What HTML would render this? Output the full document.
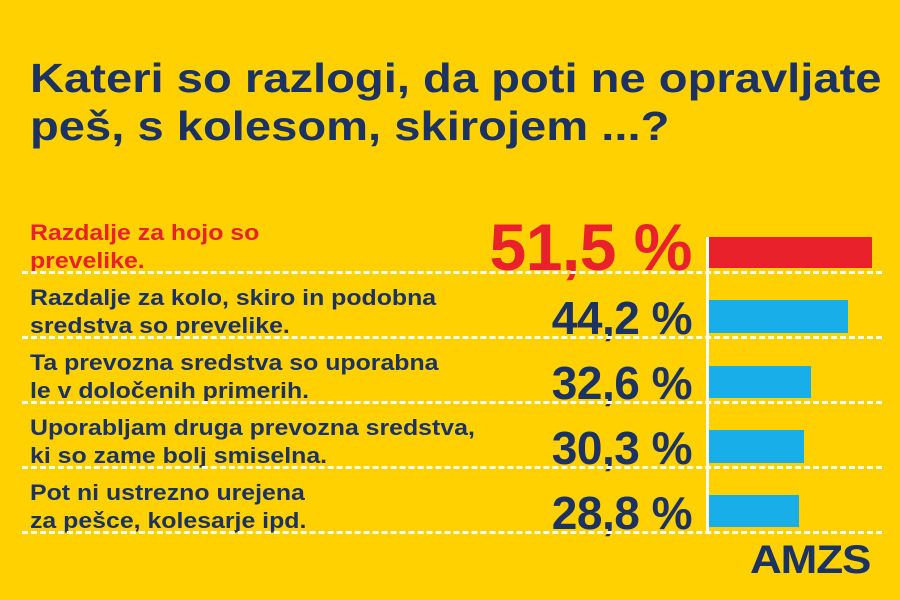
<!DOCTYPE html>
<html><head><meta charset="utf-8"><style>
body{margin:0;width:900px;height:600px;background:#FFD100;position:relative;overflow:hidden;font-family:"Liberation Sans",sans-serif;font-weight:bold}
.t{position:absolute;left:30px;top:54px;font-size:41px;line-height:48px;color:#1b3263;transform:scaleX(1.15);transform-origin:left top;white-space:nowrap}
.l{position:absolute;left:30px;font-size:22px;line-height:28px;color:#1b3263;transform:scaleX(1.13);transform-origin:left top;white-space:nowrap}
.p{position:absolute;right:208px;font-size:46px;color:#1b3263;line-height:46px;letter-spacing:-0.5px}
.d{position:absolute;left:22px;width:860px;height:0;border-top:3px dashed #fff;opacity:.95}
.b{position:absolute;left:709px;background:#18aeea}
</style></head><body>
<div class="t">Kateri so razlogi, da poti ne opravljate<br>peš, s kolesom, skirojem ...?</div>
<div class="l" style="top:219px;color:#e8212b">Razdalje za hojo so<br>prevelike.</div>
<div class="l" style="top:284px">Razdalje za kolo, skiro in podobna<br>sredstva so prevelike.</div>
<div class="l" style="top:349px">Ta prevozna sredstva so uporabna<br>le v določenih primerih.</div>
<div class="l" style="top:414px">Uporabljam druga prevozna sredstva,<br>ki so zame bolj smiselna.</div>
<div class="l" style="top:479px">Pot ni ustrezno urejena<br>za pešce, kolesarje ipd.</div>
<div class="p" style="top:214px;font-size:66px;line-height:66px;color:#e8212b">51,5 %</div>
<div class="p" style="top:295px">44,2 %</div>
<div class="p" style="top:360px">32,6 %</div>
<div class="p" style="top:425px">30,3 %</div>
<div class="p" style="top:490px">28,8 %</div>
<div class="d" style="top:271px"></div>
<div class="d" style="top:336px"></div>
<div class="d" style="top:401px"></div>
<div class="d" style="top:466px"></div>
<div class="d" style="top:531px"></div>
<div style="position:absolute;left:706px;top:237px;width:3px;height:296px;background:#fff"></div>
<div class="b" style="top:237px;width:163px;height:31px;background:#e8212b"></div>
<div class="b" style="top:300px;width:139px;height:33px"></div>
<div class="b" style="top:366px;width:102px;height:32px"></div>
<div class="b" style="top:430px;width:95px;height:33px"></div>
<div class="b" style="top:495px;width:90px;height:32px"></div>
<div style="position:absolute;left:750px;top:538px;font-size:40px;font-weight:900;color:#1b3263;letter-spacing:-1px;transform:scaleX(1.1);transform-origin:left top">AMZS</div>
</body></html>
